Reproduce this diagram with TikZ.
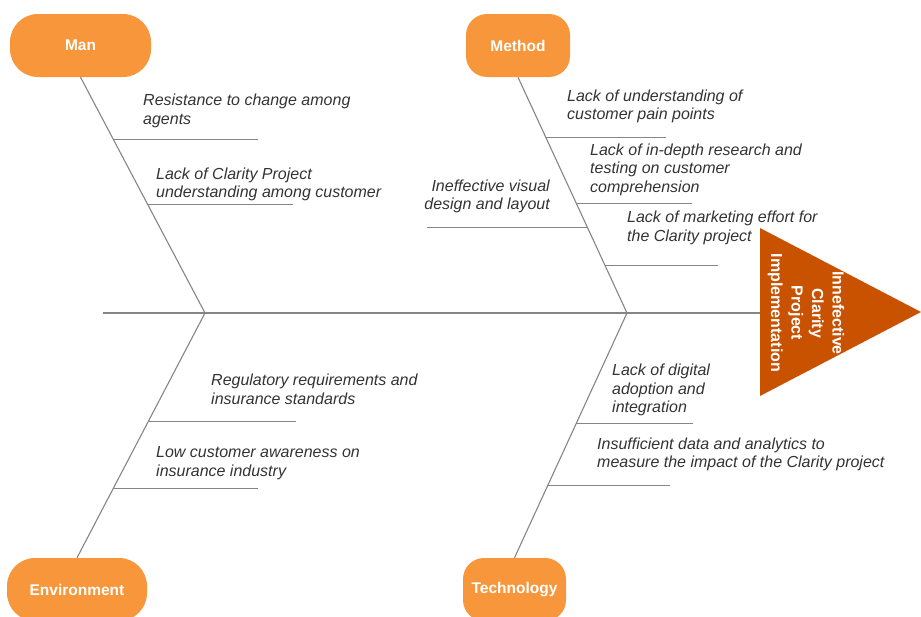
\documentclass[tikz,border=0pt]{standalone}
\usepackage{fontspec}
\setmainfont{Liberation Sans}
\usetikzlibrary{calc}
\definecolor{catorange}{HTML}{F7963A}
\definecolor{headorange}{HTML}{C85200}
\definecolor{bonegray}{HTML}{858585}
\definecolor{causetext}{HTML}{333333}
\begin{document}
\begin{tikzpicture}[x=1pt,y=-1pt,
  category/.style={fill=catorange, rounded corners=28pt, minimum width=#1,
    minimum height=63pt, inner sep=0pt, text=white,
    font=\fontsize{15.5}{19}\selectfont\bfseries},
  narrowcat/.style={category=#1, rounded corners=21pt},
  cause/.style={font=\fontsize{16}{18.5}\selectfont\itshape, text=causetext,
    inner sep=0pt, align=left, anchor=west},
  boneline/.style={draw=bonegray, line width=1.1pt}]

\useasboundingbox (0,0) rectangle (921,616);

% category boxes
\node[category=141pt]  (man)    at (80.5,45.5)  {Man};
\node[narrowcat=104pt] (method) at (518,45.5)   {Method};
\node[category=140pt]  (env)    at (77,589.5)   {Environment};
\node[narrowcat=103pt] (tech)   at (514.5,589.5) {Technology};

% fish head
\coordinate (headtop)  at (760,228);
\coordinate (headtip)  at (921,312);
\coordinate (headbot)  at (760,396);
\coordinate (headbase) at (760,313);
\fill[headorange] (headtop) -- (headtip) -- (headbot) -- cycle;
\node[rotate=-90, align=center, text=white, inner sep=0pt,
      font=\fontsize{16}{20.5}\selectfont\bfseries] (effect) at (806,313)
      {Innefective\\Clarity\\Project\\Implementation};

% spine and main bones
\coordinate (tail) at (103,313);
\coordinate (j1) at (205,313);
\coordinate (j2) at (627,313);
\draw[boneline] (tail) -- (headbase);
\draw[boneline] (man.south) -- (j1);
\draw[boneline] (method.south) -- (j2);
\draw[boneline] (env.north) -- (j1);
\draw[boneline] (tech.north) -- (j2);

% ribs: Man
\coordinate (m1) at ($(man.south)!0.2627!(j1)$);
\coordinate (m2) at ($(man.south)!0.538!(j1)$);
\draw[boneline] (m1) -- ++(145,0);
\draw[boneline] (m2) -- ++(146,0);
% ribs: Method
\coordinate (d1) at ($(method.south)!0.254!(j2)$);
\coordinate (d2) at ($(method.south)!0.534!(j2)$);
\coordinate (d3) at ($(method.south)!0.636!(j2)$);
\coordinate (d4) at ($(method.south)!0.797!(j2)$);
\draw[boneline] (d1) -- ++(120,0);
\draw[boneline] (d2) -- ++(116,0);
\draw[boneline] (d3) -- ++(-160,0);
\draw[boneline] (d4) -- ++(113,0);
% ribs: Environment
\coordinate (e1) at ($(j1)!0.445!(env.north)$);
\coordinate (e2) at ($(j1)!0.718!(env.north)$);
\draw[boneline] (e1) -- ++(148,0);
\draw[boneline] (e2) -- ++(145,0);
% ribs: Technology
\coordinate (t1) at ($(j2)!0.453!(tech.north)$);
\coordinate (t2) at ($(j2)!0.706!(tech.north)$);
\draw[boneline] (t1) -- ++(117,0);
\draw[boneline] (t2) -- ++(122,0);

% causes
\node[cause] (c1) at (143,111) {Resistance to change among\\agents};
\node[cause] (c2) at (156,184.5) {Lack of Clarity Project\\understanding among customer};
\node[cause] (c3) at (567,106.5) {Lack of understanding of\\customer pain points};
\node[cause] (c4) at (590,169.5) {Lack of in-depth research and\\testing on customer\\comprehension};
\node[cause, anchor=east, align=right] (c5) at (550,196.5) {Ineffective visual\\design and layout};
\node[cause] (c6) at (627,228) {Lack of marketing effort for\\the Clarity project};
\node[cause] (c7) at (211,389.5) {Regulatory requirements and\\insurance standards};
\node[cause] (c8) at (156,463) {Low customer awareness on\\insurance industry};
\node[cause] (c9) at (612,390) {Lack of digital\\adoption and\\integration};
\node[cause] (c10) at (597,454.5) {Insufficient data and analytics to\\measure the impact of the Clarity project};

\end{tikzpicture}
\end{document}
